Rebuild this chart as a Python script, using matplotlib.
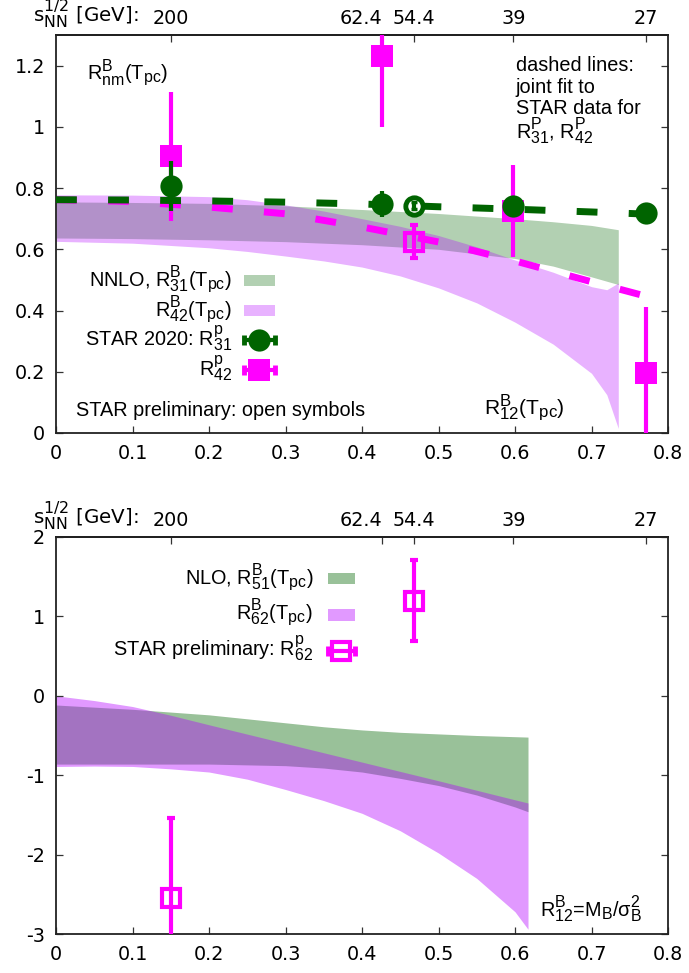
import numpy as np
import matplotlib.pyplot as plt
import matplotlib._mathtext as mathtext_core
from matplotlib.patches import Rectangle

plt.rcParams['font.family'] = 'Liberation Sans'
plt.rcParams['mathtext.fontset'] = 'custom'
plt.rcParams['mathtext.rm'] = 'Liberation Sans'
plt.rcParams['mathtext.it'] = 'Liberation Sans:italic'
plt.rcParams['mathtext.default'] = 'regular'
plt.rcParams['axes.unicode_minus'] = False
# gnuplot-style indices are a bit larger than the mathtext default
mathtext_core.SHRINK_FACTOR = 0.8

GREEN = '#006400'
MAGENTA = '#ff00ff'
VIOLET = '#b400ff'
FS = 14.3
TICKFONT = dict(family='DejaVu Sans', size=13.8)

# beam energies on the top axis, placed at their muB/T values
sqrt_s_labels = ['200', '62.4', '54.4', '39', '27']
sqrt_s_pos = [0.150, 0.426, 0.468, 0.598, 0.771]

# ---- upper panel: R31, R42 ----
nnlo31_x = [0, 0.1, 0.2, 0.3, 0.4, 0.5, 0.6, 0.65, 0.7, 0.735]
nnlo31_hi = [0.755, 0.753, 0.750, 0.742, 0.730, 0.717, 0.700, 0.690, 0.678, 0.664]
nnlo31_lo = [0.637, 0.635, 0.631, 0.625, 0.615, 0.600, 0.570, 0.545, 0.510, 0.485]

nnlo42_x = [0, 0.1, 0.2, 0.25, 0.3, 0.35, 0.4, 0.45, 0.5, 0.55, 0.6, 0.65, 0.7, 0.72, 0.735]
nnlo42_hi = [0.778, 0.777, 0.772, 0.762, 0.745, 0.725, 0.700, 0.675, 0.645, 0.608,
             0.565, 0.525, 0.478, 0.468, 0.490]
nnlo42_lo = [0.626, 0.620, 0.605, 0.593, 0.578, 0.562, 0.542, 0.513, 0.474, 0.425,
             0.362, 0.290, 0.195, 0.125, 0.015]

fit_x = [0, 0.1, 0.2, 0.3, 0.4, 0.5, 0.6, 0.7, 0.771]
fit31_y = [0.762, 0.761, 0.758, 0.754, 0.748, 0.739, 0.731, 0.722, 0.715]
fit42_y = [0.762, 0.756, 0.738, 0.716, 0.673, 0.624, 0.562, 0.494, 0.447]

star31_x = [0.150, 0.426, 0.598, 0.771]
star31_y = [0.808, 0.749, 0.740, 0.718]
star31_err = [0.082, 0.043, 0.010, 0.010]
star42_x = [0.150, 0.426, 0.598, 0.771]
star42_y = [0.904, 1.233, 0.725, 0.195]
star42_err = [0.210, 0.235, 0.149, 0.218]

prel31_x, prel31_y, prel31_err = [0.468], [0.743], [0.011]
prel42_x, prel42_y, prel42_err = [0.468], [0.625], [0.054]

# ---- lower panel: R51, R62 ----
nlo51_x = [0, 0.1, 0.2, 0.3, 0.35, 0.4, 0.45, 0.5, 0.55, 0.6, 0.617]
nlo51_hi = [-0.116, -0.17, -0.24, -0.34, -0.39, -0.43, -0.46, -0.48, -0.50, -0.515, -0.52]
nlo51_lo = [-0.86, -0.86, -0.86, -0.88, -0.91, -0.96, -1.04, -1.13, -1.25, -1.40, -1.46]

nlo62_x = [0, 0.05, 0.1, 0.15, 0.2, 0.3, 0.4, 0.5, 0.6, 0.617]
nlo62_hi = [0.0, -0.06, -0.135, -0.245, -0.365, -0.60, -0.835, -1.07, -1.31, -1.35]
nlo62_lo_x = [0, 0.05, 0.1, 0.15, 0.2, 0.25, 0.3, 0.35, 0.4, 0.45, 0.5, 0.55, 0.6, 0.617]
nlo62_lo = [-0.89, -0.885, -0.89, -0.92, -0.96, -1.05, -1.18, -1.32, -1.48, -1.70,
            -1.98, -2.30, -2.72, -2.94]

prel62_x = [0.150, 0.468]
prel62_y = [-2.55, 1.20]
prel62_err = [1.01, 0.505]

x_ticks = [0, 0.1, 0.2, 0.3, 0.4, 0.5, 0.6, 0.7, 0.8]
x_ticklabels = ['0', '0.1', '0.2', '0.3', '0.4', '0.5', '0.6', '0.7', '0.8']
y1_ticks = [0, 0.2, 0.4, 0.6, 0.8, 1.0, 1.2]
y1_ticklabels = ['0', '0.2', '0.4', '0.6', '0.8', '1', '1.2']
y2_ticks = [-3, -2, -1, 0, 1, 2]
y2_ticklabels = ['-3', '-2', '-1', '0', '1', '2']

W, H = 689, 973
fig = plt.figure(figsize=(W / 100, H / 100), dpi=100)
ax1 = fig.add_axes([56 / W, 1 - 433 / H, 612 / W, 398 / H])
ax2 = fig.add_axes([56 / W, 1 - 934 / H, 612 / W, 397 / H])


def style_axes(ax, yticks, yticklabels, ylim):
    ax.set_xlim(0, 0.8)
    ax.set_ylim(*ylim)
    ax.set_xticks(x_ticks)
    ax.set_xticklabels(x_ticklabels, **TICKFONT)
    ax.set_yticks(yticks)
    ax.set_yticklabels(yticklabels, **TICKFONT)
    ax.tick_params(direction='in', length=5, width=0.9, right=True, top=False,
                   color='#333333')
    ax.tick_params(axis='x', pad=8)
    ax.tick_params(axis='y', pad=8)
    for s in ax.spines.values():
        s.set_linewidth(1.3)
        s.set_color('#222222')
    sec = ax.secondary_xaxis('top')
    sec.set_xticks(sqrt_s_pos)
    sec.set_xticklabels(sqrt_s_labels, **TICKFONT)
    sec.tick_params(direction='in', length=5, width=0.9, pad=5, color='#333333')
    sec.spines['top'].set_linewidth(1.3)
    # 62.4 sits right next to 54.4, so it hangs to the left of its tick
    sec.get_xticklabels()[1].set_horizontalalignment('right')
    fig.text(ax.get_position().x0 - 23 / W, ax.get_position().y1 + 12 / H,
             r's$^{1/2}_{NN}$ [GeV]:', fontsize=FS, family='DejaVu Sans',
             va='baseline', ha='left')


def key_band(ax, x0, x1, yc, h, color, alpha):
    ax.add_patch(Rectangle((x0, yc - h / 2), x1 - x0, h, transform=ax.transAxes,
                           facecolor=color, alpha=alpha, edgecolor='none',
                           clip_on=False))


def key_errbar(ax, x0, x1, yc, marker, color, ms, mfc, mew):
    kw = dict(transform=ax.transAxes, clip_on=False, color=color)
    ax.plot([x0, x1], [yc, yc], lw=3, solid_capstyle='butt', **kw)
    ax.plot([x0, x1], [yc, yc], ls='none', marker='|', ms=7, mew=3.5, **kw)
    ax.plot([(x0 + x1) / 2], [yc], ls='none', marker=marker, ms=ms, mfc=mfc,
            mec=color, mew=mew, **kw)


err_kw = dict(ls='none', elinewidth=3, capsize=3, capthick=3)

# ---------- upper panel ----------
style_axes(ax1, y1_ticks, y1_ticklabels, (0, 1.3))
ax1.fill_between(nnlo31_x, nnlo31_lo, nnlo31_hi, color=GREEN, alpha=0.3, lw=0, zorder=1)
ax1.fill_between(nnlo42_x, nnlo42_lo, nnlo42_hi, color=VIOLET, alpha=0.3, lw=0, zorder=1.1)

ax1.plot(fit_x, fit42_y, color=MAGENTA, lw=5, dashes=(3.0, 4.5),
         dash_capstyle='butt', zorder=2)
ax1.errorbar(star42_x, star42_y, yerr=star42_err, fmt='s', color=MAGENTA,
             ms=16, mew=0, zorder=3, **err_kw)
ax1.errorbar(prel42_x, prel42_y, yerr=prel42_err, fmt='s', color=MAGENTA,
             ms=12.5, mfc='none', mew=3, zorder=3, **err_kw)
ax1.plot(fit_x, fit31_y, color=GREEN, lw=5, dashes=(3.0, 4.5),
         dash_capstyle='butt', zorder=4)
ax1.errorbar(star31_x, star31_y, yerr=star31_err, fmt='o', color=GREEN,
             ms=16, mew=0, zorder=5, **err_kw)
ax1.plot(prel31_x, prel31_y, 'o', color=GREEN, ms=12.5, mfc='white', mew=3.5, zorder=5)
ax1.errorbar(prel31_x, prel31_y, yerr=prel31_err, fmt='none', color=GREEN,
             elinewidth=3, capsize=2.5, capthick=2.5, zorder=6)

ax1.text(0.0405, 1.154, r'R$^{B}_{nm}$(T$_{pc}$)', fontsize=FS, va='baseline')
for txt, yb in zip(['dashed lines:', 'joint fit to', 'STAR data for',
                    r'R$^{P}_{31}$, R$^{P}_{42}$'],
                   [1.183, 1.112, 1.043, 0.962]):
    ax1.text(0.601, yb, txt, fontsize=FS, va='baseline')
ax1.text(0.026, 0.057, 'STAR preliminary: open symbols', fontsize=FS,
         va='baseline')
ax1.text(0.56, 0.059, r'R$^{B}_{12}$(T$_{pc}$)', fontsize=FS + 0.8, va='baseline')

# key, upper panel
kx0, kx1, ktx = 0.307, 0.358, 0.2876
rows1 = [r'NNLO, R$^{B}_{31}$(T$_{pc}$)', r'R$^{B}_{42}$(T$_{pc}$)',
         r'STAR 2020: R$^{p}_{31}$', r'R$^{p}_{42}$']
base1 = [0.3676, 0.2915, 0.2168, 0.1415]
for txt, yb in zip(rows1, base1):
    ax1.text(ktx, yb, txt, transform=ax1.transAxes, fontsize=FS,
             ha='right', va='baseline')
key_band(ax1, kx0, kx1, 0.383, 0.028, GREEN, 0.3)
key_band(ax1, kx0, kx1, 0.308, 0.028, VIOLET, 0.3)
key_errbar(ax1, kx0, kx1, 0.2337, 'o', GREEN, 16, GREEN, 0)
key_errbar(ax1, kx0, kx1, 0.158, 's', MAGENTA, 16, MAGENTA, 0)

# ---------- lower panel ----------
style_axes(ax2, y2_ticks, y2_ticklabels, (-3, 2))
ax2.fill_between(nlo51_x, nlo51_lo, nlo51_hi, color=GREEN, alpha=0.4, lw=0, zorder=1)
# the R62 band edges were read on different x grids
band_x = np.union1d(nlo62_x, nlo62_lo_x)
ax2.fill_between(band_x,
                 np.interp(band_x, nlo62_lo_x, nlo62_lo),
                 np.interp(band_x, nlo62_x, nlo62_hi),
                 color=VIOLET, alpha=0.4, lw=0, zorder=1.1)
ax2.errorbar(prel62_x, prel62_y, yerr=prel62_err, fmt='s', color=MAGENTA,
             ms=12.5, mfc='none', mew=3, zorder=3, **err_kw)

ax2.text(0.633, -2.786, r'R$^{B}_{12}$=M$_{B}$/$\sigma^{2}_{B}$', fontsize=FS,
         va='baseline')

kx0, kx1, ktx = 0.444, 0.4886, 0.42
rows2 = [r'NLO, R$^{B}_{51}$(T$_{pc}$)', r'R$^{B}_{62}$(T$_{pc}$)',
         r'STAR preliminary: R$^{p}_{62}$']
base2 = [0.879, 0.791, 0.6985]
for txt, yb in zip(rows2, base2):
    ax2.text(ktx, yb, txt, transform=ax2.transAxes, fontsize=FS,
             ha='right', va='baseline')
key_band(ax2, kx0, kx1, 0.8955, 0.028, GREEN, 0.4)
key_band(ax2, kx0, kx1, 0.8035, 0.028, VIOLET, 0.4)
key_errbar(ax2, kx0, kx1, 0.7136, 's', MAGENTA, 12.5, 'none', 3)

fig.savefig('out.png', dpi=100)
